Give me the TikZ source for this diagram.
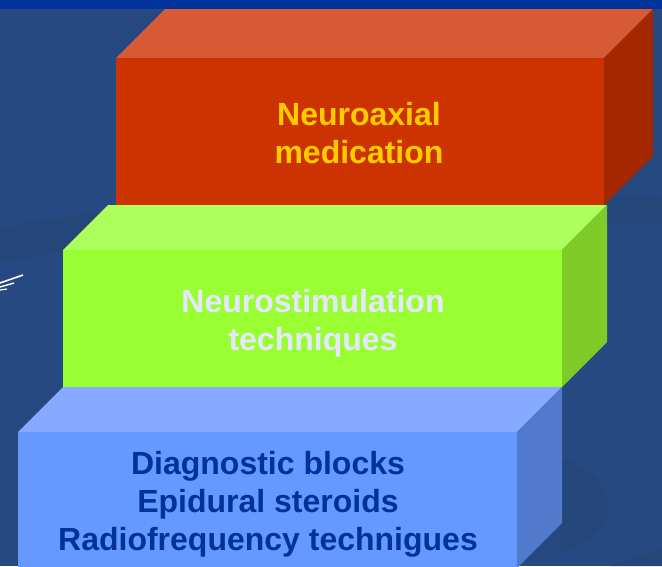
\documentclass[tikz,border=0pt]{standalone}
\usepackage{fontspec}
\setmainfont{Liberation Sans}
\definecolor{bgblue}{RGB}{38,73,130}
\definecolor{bandblue}{RGB}{36,70,120}
\definecolor{stripblue}{RGB}{0,51,153}
\definecolor{redfront}{RGB}{204,51,0}
\definecolor{redtop}{RGB}{214,90,52}
\definecolor{redside}{RGB}{163,40,0}
\definecolor{greenfront}{RGB}{153,255,51}
\definecolor{greentop}{RGB}{173,255,92}
\definecolor{greenside}{RGB}{127,204,41}
\definecolor{bluefront}{RGB}{102,153,255}
\definecolor{bluetop}{RGB}{133,170,255}
\definecolor{blueside}{RGB}{82,122,204}
\definecolor{labelyellow}{RGB}{255,204,0}
\definecolor{labelwhite}{RGB}{230,230,255}
\definecolor{labelblue}{RGB}{0,51,153}
\tikzset{steplabel/.style={align=center,font=\fontsize{32}{38}\selectfont\bfseries}}

\begin{document}
\begin{tikzpicture}[x=1pt,y=-1pt]
            \fill[bgblue] (0,0) rectangle (662,566);
            \useasboundingbox (0,0) rectangle (662,566);
            \fill[bandblue] (0,228) .. controls (150,198) and (400,190) .. (662,197)
                -- (662,223) .. controls (400,220) and (150,235) .. (0,262) -- cycle;
            \fill[bandblue] (560,457) .. controls (625,480) and (625,535) .. (560,552) -- cycle;
            \fill[bandblue] (610,566) .. controls (630,558) and (650,552) .. (662,548) -- (662,566) -- cycle;
            \draw[bandblue,line width=1pt] (0,374) -- (60,388);
            \fill[stripblue] (0,0) rectangle (662,9);

            \draw[white,line width=1.6pt] (0,283) -- (23,275);
            \draw[white,line width=1.4pt] (0,287) -- (14,283);
            \draw[white,line width=1.2pt] (0,290) -- (7,289);

            \fill[redtop] (116,58) -- (165,9) -- (653,9) -- (604,58) -- cycle;
            \fill[redside] (604,58) -- (653,9) -- (653,156) -- (604,205) -- cycle;
            \fill[redfront] (116,58) rectangle (604,205);
            \node[steplabel,text=labelyellow] (neuroaxial) at (359,133.5) {Neuroaxial\\medication};

            \fill[greentop] (63,250) -- (108,205) -- (607,205) -- (562,250) -- cycle;
            \fill[greenside] (562,250) -- (607,205) -- (607,342) -- (562,387) -- cycle;
            \fill[greenfront] (63,250) rectangle (562,387);
            \node[steplabel,text=labelwhite] (neurostim) at (313,323) {Neurostimulation\\techniques};

            \fill[bluetop] (18,432) -- (63,387) -- (562,387) -- (517,432) -- cycle;
            \fill[blueside] (517,432) -- (562,387) -- (562,523) -- (517,568) -- cycle;
            \fill[bluefront] (18,432) rectangle (517,568);
            \node[steplabel,text=labelblue] (blocks) at (268,504.5) {Diagnostic blocks\\Epidural steroids\\Radiofrequency technigues};
        \end{tikzpicture}
\end{document}
